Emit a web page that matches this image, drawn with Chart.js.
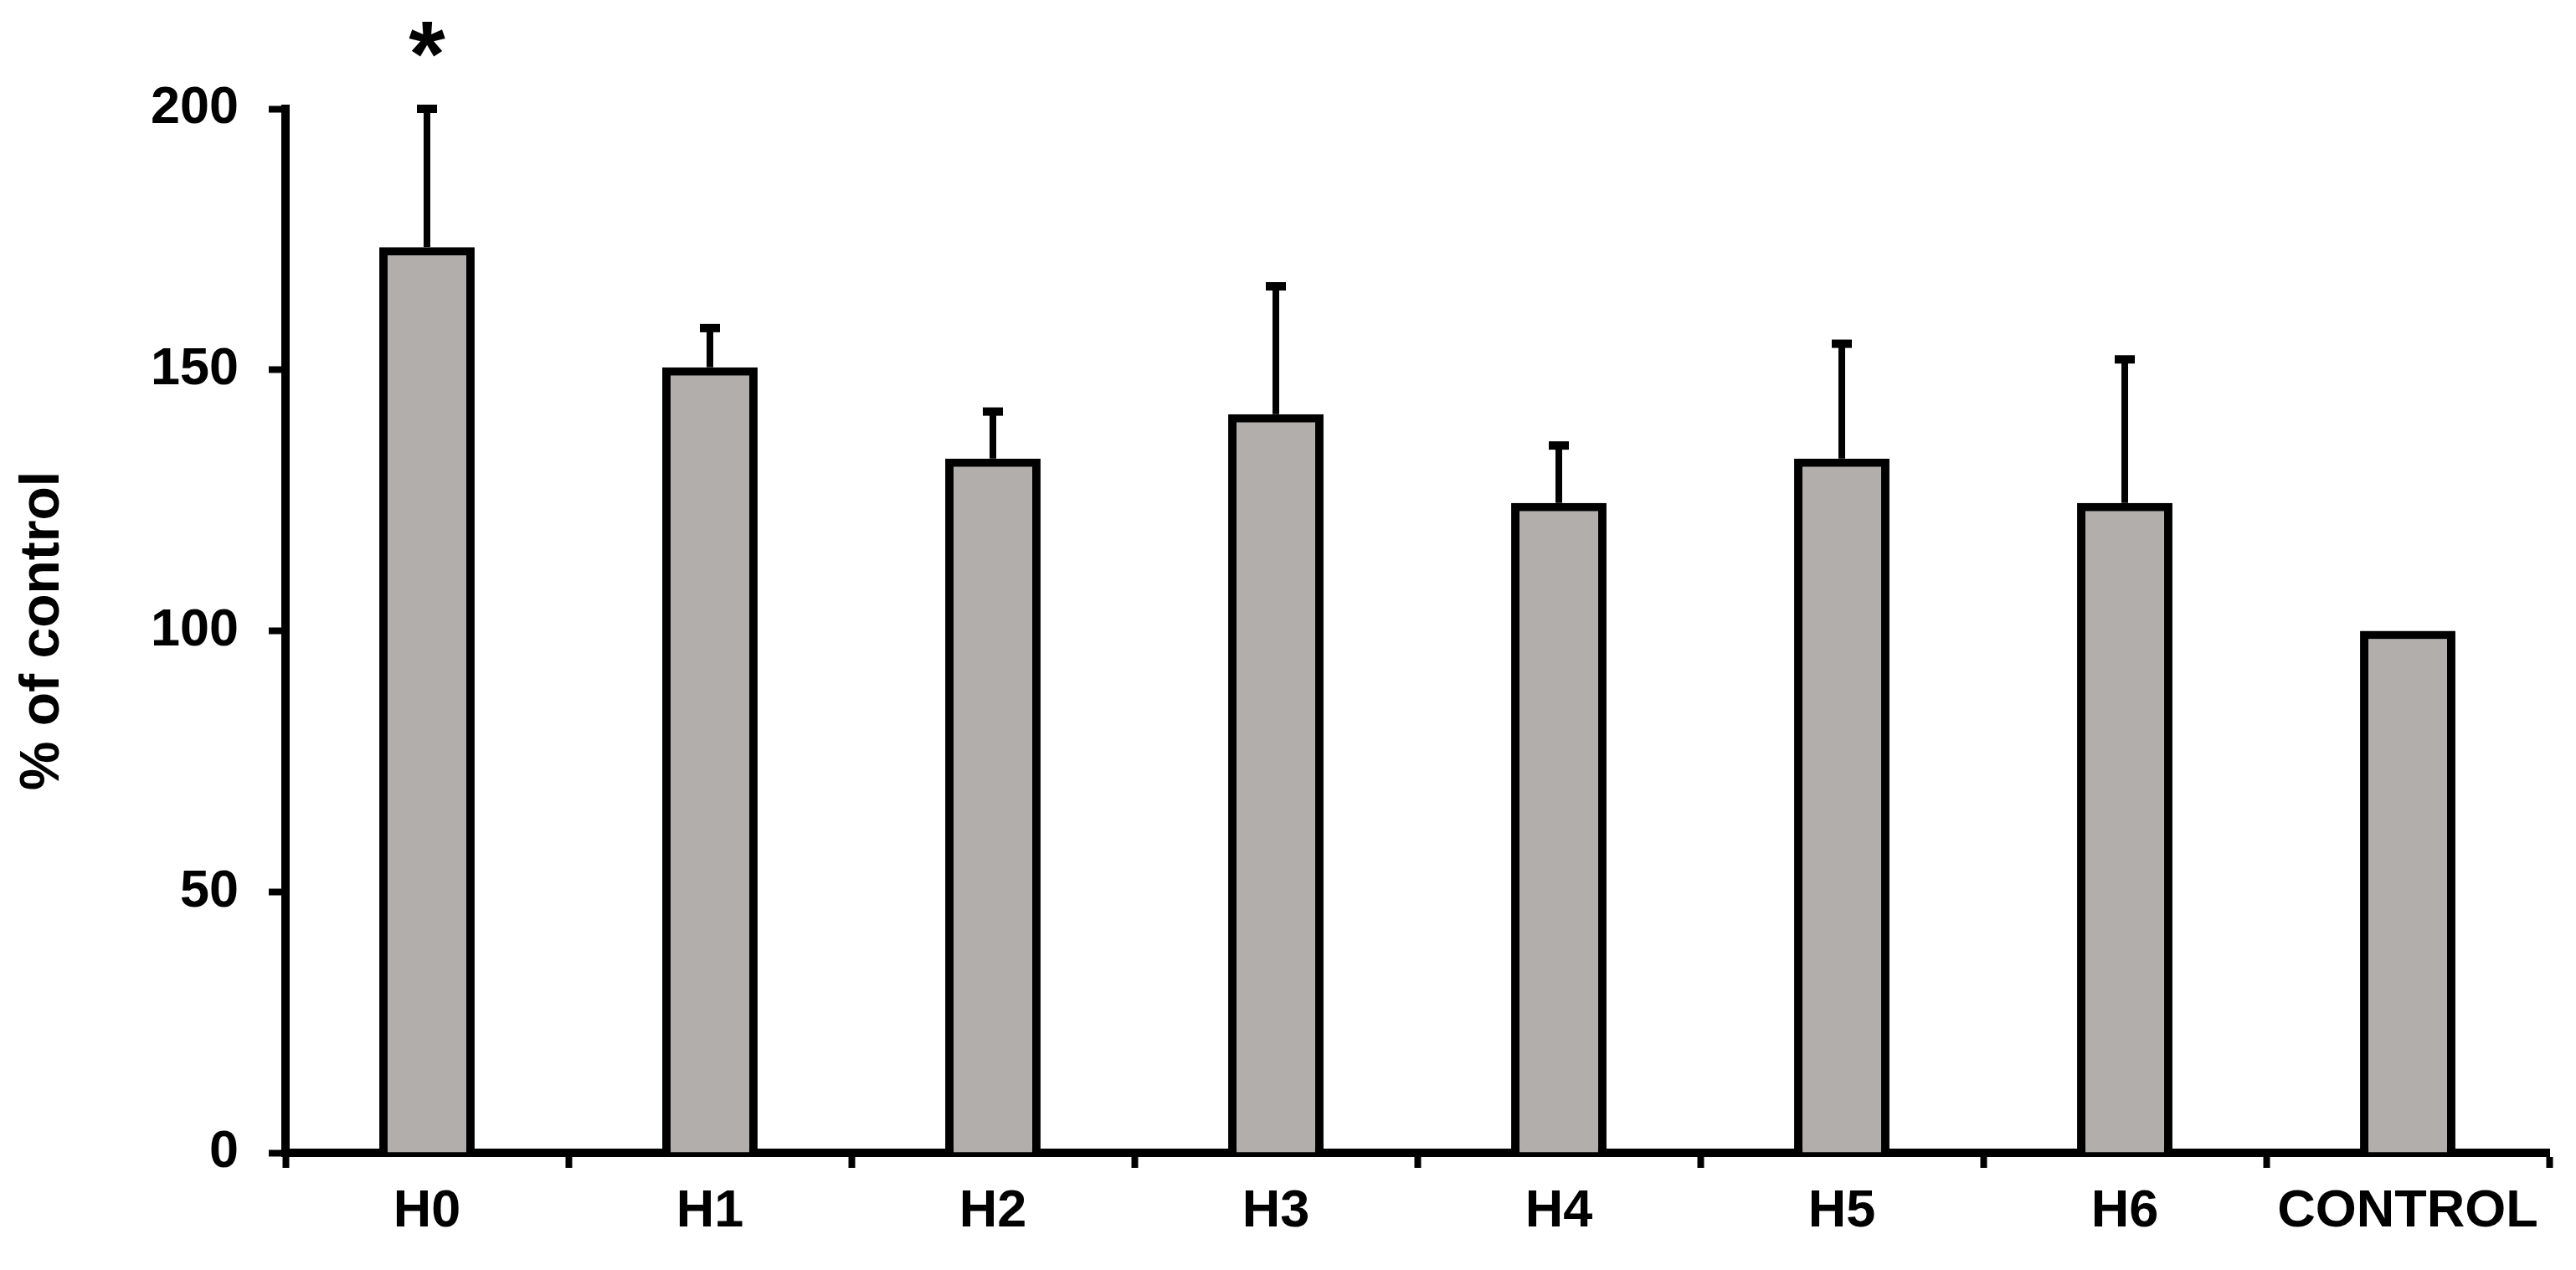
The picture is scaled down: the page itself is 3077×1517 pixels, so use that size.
<!DOCTYPE html>
<html>
<head>
<meta charset="utf-8">
<script src="https://cdn.jsdelivr.net/npm/chart.js@4.4.1/dist/chart.umd.min.js"></script>
<style>
  html, body { margin: 0; padding: 0; background: #fff; }
  #wrap { width: 3077px; height: 1517px; position: relative; }
</style>
</head>
<body>
<div id="wrap"><canvas id="barchart"></canvas></div>
<script>
// data
const groups = ["H0", "H1", "H2", "H3", "H4", "H5", "H6", "CONTROL"]
const percentOfControl = [173.5, 150.5, 133, 141.5, 124.5, 133, 124.5, 100]
const errorUp = [26.5, 7.5, 9, 24.5, 11, 22, 27.5, 0]
const yTicks = [0, 50, 100, 150, 200]
const marks = ["*", "", "", "", "", "", "", ""]

const FONT = '"Liberation Sans", Arial, sans-serif'

// upper error bars + significance star
const errorBars = {
    id: 'errorBars',
    afterDatasetsDraw(chart) {
        const ctx = chart.ctx
        const y = chart.scales.y
        const meta = chart.getDatasetMeta(0)
        ctx.save()
        ctx.strokeStyle = '#000'
        ctx.fillStyle = '#000'
        meta.data.forEach((bar, i) => {
            const top = y.getPixelForValue(percentOfControl[i] + errorUp[i])
            if (errorUp[i] > 0) {
                ctx.lineWidth = 8
                ctx.beginPath()
                ctx.moveTo(bar.x, bar.y)
                ctx.lineTo(bar.x, top)
                ctx.stroke()
                ctx.lineWidth = 10
                ctx.beginPath()
                ctx.moveTo(bar.x - 12, top)
                ctx.lineTo(bar.x + 12, top)
                ctx.stroke()
            }
            if (marks[i]) {
                ctx.font = 'bold 112px ' + FONT
                ctx.textAlign = 'center'
                ctx.textBaseline = 'alphabetic'
                ctx.fillText(marks[i], bar.x, top - 27)
            }
        })
        ctx.restore()
    }
}

function setupChart() {
    return new Chart(document.getElementById("barchart").getContext('2d'), {
        type: 'bar',
        data: {
            labels: groups,
            datasets: [{
                label: "% of control",
                data: percentOfControl,
                backgroundColor: '#b2aeab',
                borderColor: '#000',
                borderWidth: 10,
                borderSkipped: 'start',
                categoryPercentage: 1,
                barPercentage: 0.337
            }]
        },
        options: {
            responsive: true,
            maintainAspectRatio: false,
            animation: false,
            layout: { padding: { top: 130, right: 32, left: 0, bottom: 0 } },
            plugins: {
                legend: { display: false },
                tooltip: { enabled: false }
            },
            scales: {
                x: {
                    grid: {
                        offset: true,
                        drawOnChartArea: false,
                        drawTicks: true,
                        tickLength: 18,
                        tickWidth: 8,
                        tickColor: '#000'
                    },
                    border: { display: true, width: 10, color: '#000' },
                    ticks: {
                        color: '#000',
                        padding: 15,
                        maxRotation: 0,
                        autoSkip: false,
                        font: { family: FONT, size: 63, weight: 'bold' }
                    },
                    afterFit: s => { s.height = 140 }
                },
                y: {
                    min: 0,
                    max: 200,
                    afterBuildTicks: s => { s.ticks = yTicks.map(v => ({ value: v })) },
                    grid: {
                        drawOnChartArea: false,
                        drawTicks: true,
                        tickLength: 20,
                        tickWidth: 8,
                        tickColor: '#000'
                    },
                    border: { display: true, width: 10, color: '#000' },
                    ticks: {
                        color: '#000',
                        padding: 36,
                        font: { family: FONT, size: 63, weight: 'bold' }
                    },
                    title: {
                        display: true,
                        text: '% of control',
                        color: '#000',
                        padding: { top: 12, bottom: 0 },
                        font: { family: FONT, size: 66, weight: 'bold' }
                    },
                    afterFit: s => { s.width = 341 }
                }
            }
        },
        plugins: [errorBars]
    })
}
setupChart()
</script>
</body>
</html>
